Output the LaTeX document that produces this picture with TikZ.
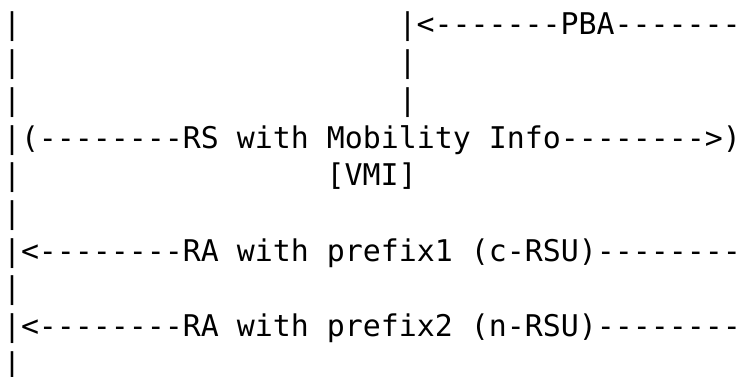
\documentclass[tikz,border=0pt]{standalone}
\usepackage{fontspec}
\setmonofont{DejaVu Sans Mono}
\usepackage{tikz}
\usetikzlibrary{calc}

\tikzset{
    ascii/.style={font=\ttfamily\fontsize{29.9}{37.7}\selectfont, inner sep=0pt, outer sep=0pt, anchor=base west}
}

\begin{document}
\begin{tikzpicture}[x=1pt,y=-1pt]
        \useasboundingbox (0,0) rectangle (744,377);
        % column 0: left edge at 3pt, one character = 17.98pt, one line = 37.7pt
        \node[ascii] (bar1) at (3,35.0) {|};
        \node[ascii] (pba) at (398.6,35.0) {|<-------PBA-------};
        \node[ascii] (bar2) at (3,72.7) {|};
        \node[ascii] (mid2) at (398.6,72.7) {|};
        \node[ascii] (bar3) at (3,110.4) {|};
        \node[ascii] (mid3) at (398.6,110.4) {|};
        \node[ascii] (rs) at (3,148.1) {|(--------RS with Mobility Info-------->)};
        \node[ascii] (bar5) at (3,185.8) {|};
        \node[ascii] (vmi) at (326.6,185.8) {[VMI]};
        \node[ascii] (bar6) at (3,223.5) {|};
        \node[ascii] (ra1) at (3,261.2) {|<--------RA with prefix1 (c-RSU)--------};
        \node[ascii] (bar8) at (3,298.9) {|};
        \node[ascii] (ra2) at (3,336.6) {|<--------RA with prefix2 (n-RSU)--------};
        \node[ascii] (bar10) at (3,374.3) {|};
    \end{tikzpicture}
\end{document}
